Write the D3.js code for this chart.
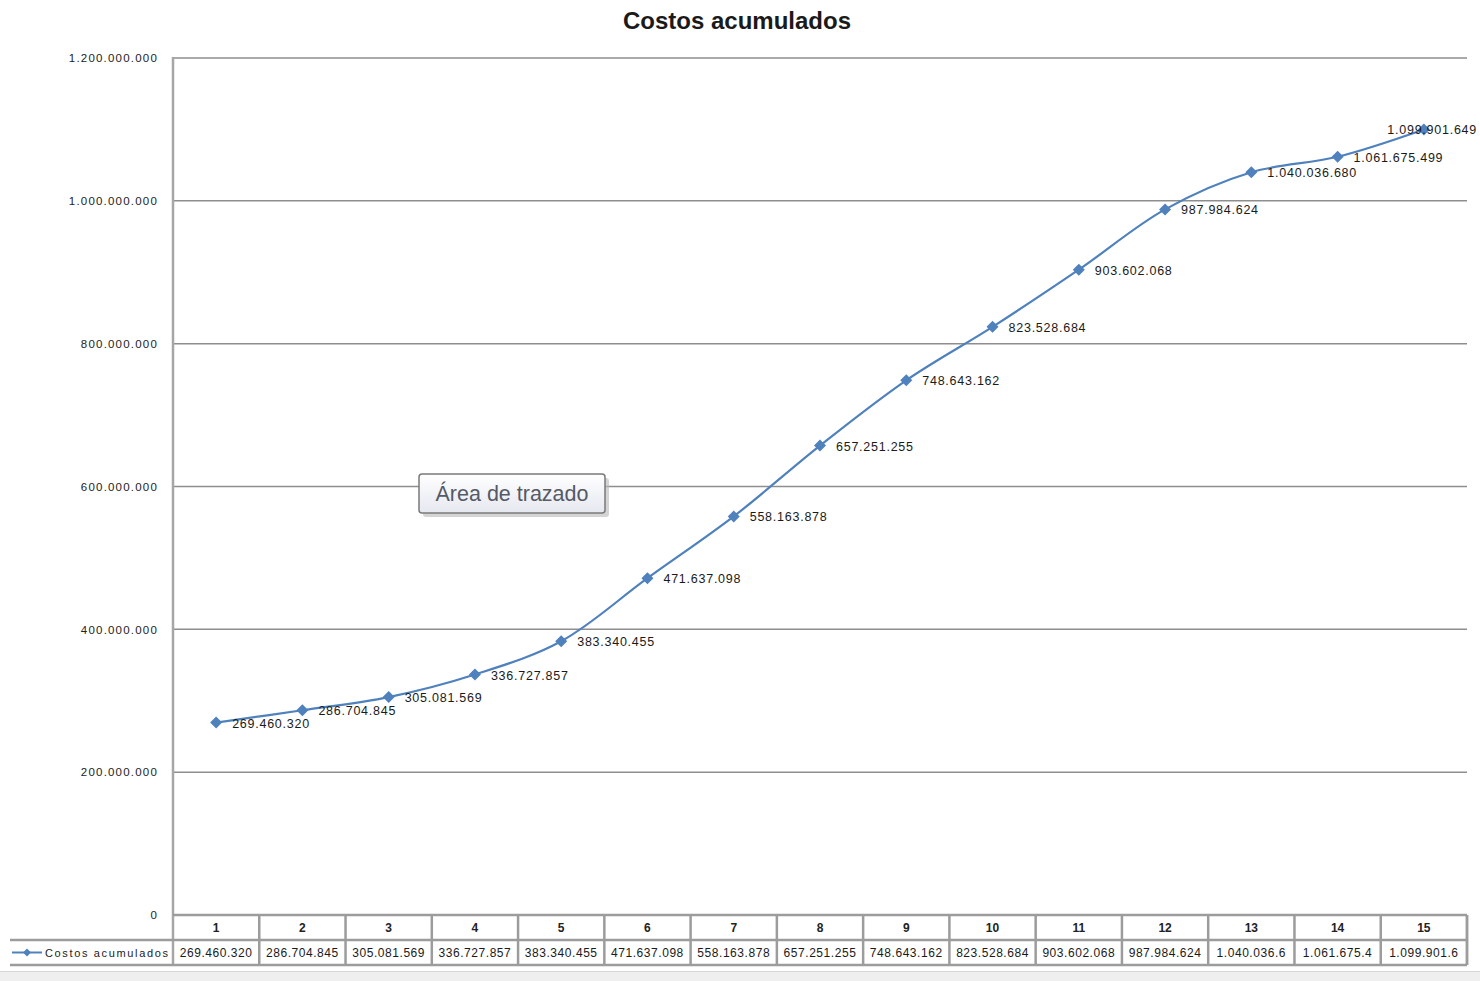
<!DOCTYPE html>
<html>
<head>
<meta charset="utf-8">
<script src="https://cdn.jsdelivr.net/npm/d3@7/dist/d3.min.js"></script>
<style>
  html, body { margin: 0; padding: 0; background: #fff; }
  svg { display: block; }
  text { font-family: "Liberation Sans", Arial, sans-serif; }
</style>
</head>
<body>
<svg id="chart" width="1480" height="981"></svg>
<script>
// Cumulative costs per period
const categories = ["1","2","3","4","5","6","7","8","9","10","11","12","13","14","15"];
const costosAcumulados = [
  269460320, 286704845, 305081569, 336727857, 383340455,
  471637098, 558163878, 657251255, 748643162, 823528684,
  903602068, 987984624, 1040036680, 1061675499, 1099901649
];
const yTicks = [0, 200000000, 400000000, 600000000, 800000000, 1000000000, 1200000000];
const seriesName = "Costos acumulados";
const chartTitle = "Costos acumulados";

const W = 1480, H = 981;
const plot = { left: 173, right: 1467, top: 58, bottom: 915 };
const rowH = 25;
const tableLeft = 10;
const blue = "#4f81bd";
const grid = "#8e8e8e";

const locale = d3.formatLocale({ decimal: ",", thousands: ".", grouping: [3], currency: ["", ""] });
const fmt = locale.format(",d");

const svg = d3.select("#chart");

const x = d3.scaleBand().domain(categories).range([plot.left, plot.right]);
const y = d3.scaleLinear().domain([0, 1200000000]).range([plot.bottom, plot.top]);

// square-ish diamond marker (a square turned 45 degrees)
const diamond = s => {
  const r = s / 2;
  return `M0,${-r}L${r},0L0,${r}L${-r},0Z`;
};

// spreadsheet strip under the chart
svg.append("rect").attr("x", 0).attr("y", 971).attr("width", W).attr("height", 10).attr("fill", "#efefef");
svg.append("line").attr("x1", 0).attr("x2", W).attr("y1", 971.5).attr("y2", 971.5).attr("stroke", "#d6d6d6");

// title
svg.append("text")
  .attr("x", 737).attr("y", 29)
  .attr("text-anchor", "middle")
  .attr("font-size", 24).attr("font-weight", "bold").attr("fill", "#1a1a1a")
  .text(chartTitle);

// horizontal gridlines
svg.append("g").selectAll("line")
  .data(yTicks.filter(d => d > 0))
  .join("line")
  .attr("x1", plot.left).attr("x2", plot.right)
  .attr("y1", d => y(d)).attr("y2", d => y(d))
  .attr("stroke", grid).attr("stroke-width", 1.5);

// y axis
const yAxis = d3.axisLeft(y).tickValues(yTicks).tickFormat(fmt).tickSize(0).tickPadding(15);
const gy = svg.append("g").attr("transform", `translate(${plot.left},0)`).call(yAxis);
gy.select(".domain").remove();
gy.selectAll("text")
  .attr("font-size", 11.5).attr("letter-spacing", 1.2).attr("fill", "#222")
  .attr("font-family", "'Liberation Sans', Arial, sans-serif");
svg.append("line")
  .attr("x1", plot.left).attr("x2", plot.left)
  .attr("y1", plot.top - 1).attr("y2", plot.bottom + 2 * rowH)
  .attr("stroke", "#a6a6a6").attr("stroke-width", 2.5);

// data table under the plot
const table = svg.append("g");
const cellStroke = "#9c9c9c";
// horizontal rules
[[plot.left, plot.bottom], [tableLeft, plot.bottom + rowH], [tableLeft, plot.bottom + 2 * rowH]].forEach(([x0, yy]) => {
  table.append("line").attr("x1", x0).attr("x2", plot.right)
    .attr("y1", yy).attr("y2", yy).attr("stroke", cellStroke).attr("stroke-width", 2.5);
});
// column rules
table.selectAll("line.col")
  .data(categories.map(c => x(c) + x.bandwidth()).concat([plot.right]))
  .join("line").attr("class", "col")
  .attr("x1", d => d).attr("x2", d => d)
  .attr("y1", plot.bottom).attr("y2", plot.bottom + 2 * rowH)
  .attr("stroke", cellStroke).attr("stroke-width", 2.5);
// category row
table.selectAll("text.cat")
  .data(categories).join("text").attr("class", "cat")
  .attr("x", d => x(d) + x.bandwidth() / 2).attr("y", plot.bottom + 17)
  .attr("text-anchor", "middle").attr("font-size", 12).attr("font-weight", "bold").attr("fill", "#222")
  .text(d => d);
// value row (cell text is clipped to the cell width)
table.selectAll("text.val")
  .data(costosAcumulados).join("text").attr("class", "val")
  .attr("x", (d, i) => x(categories[i]) + x.bandwidth() / 2).attr("y", plot.bottom + rowH + 17)
  .attr("text-anchor", "middle").attr("font-size", 12).attr("letter-spacing", 0.55).attr("fill", "#1a1a1a")
  .text(d => fmt(d).slice(0, 11));
// legend key in the table
const ky = plot.bottom + rowH + 12.5;
table.append("line").attr("x1", 12).attr("x2", 42).attr("y1", ky).attr("y2", ky)
  .attr("stroke", blue).attr("stroke-width", 2);
table.append("path").attr("d", diamond(8))
  .attr("transform", `translate(27,${ky})`).attr("fill", blue);
table.append("text").attr("x", 45).attr("y", ky + 4.5)
  .attr("font-size", 11).attr("letter-spacing", 1.65).attr("fill", "#222")
  .text(seriesName);

// smoothed series line
const pts = costosAcumulados.map((v, i) => [x(categories[i]) + x.bandwidth() / 2, y(v)]);
svg.append("path")
  .attr("d", d3.line().curve(d3.curveCatmullRom.alpha(0.5))(pts))
  .attr("fill", "none").attr("stroke", blue).attr("stroke-width", 2.2);

// markers
svg.append("g").selectAll("path")
  .data(pts).join("path")
  .attr("d", diamond(12))
  .attr("transform", d => `translate(${d[0]},${d[1]})`)
  .attr("fill", blue);

// data labels to the right of each marker, pulled inside the frame at the right edge
const labels = svg.append("g").selectAll("text")
  .data(costosAcumulados).join("text")
  .attr("font-size", 12.5).attr("letter-spacing", 0.75).attr("fill", "#1a1a1a")
  .attr("y", (d, i) => pts[i][1] + 5)
  .text(d => fmt(d));
labels.each(function (d, i) {
  const w = this.getComputedTextLength();
  let lx = pts[i][0] + 16;
  if (lx + w > W - 3) lx = W - 3 - w;
  d3.select(this).attr("x", lx);
});

// "Área de trazado" hover tip
const tip = svg.append("g").attr("transform", "translate(419,474)");
const defs = svg.append("defs");
const grad = defs.append("linearGradient").attr("id", "tipfill").attr("x1", 0).attr("x2", 0).attr("y1", 0).attr("y2", 1);
grad.append("stop").attr("offset", "0%").attr("stop-color", "#ffffff");
grad.append("stop").attr("offset", "100%").attr("stop-color", "#e6e8f0");
tip.append("rect").attr("x", 4).attr("y", 4).attr("width", 186).attr("height", 39).attr("rx", 3)
  .attr("fill", "#b8b8b8").attr("opacity", 0.6);
tip.append("rect").attr("x", 0).attr("y", 0).attr("width", 186).attr("height", 39).attr("rx", 3)
  .attr("fill", "url(#tipfill)").attr("stroke", "#7a7a7a").attr("stroke-width", 1.5);
tip.append("text").attr("x", 93).attr("y", 27).attr("text-anchor", "middle")
  .attr("font-size", 21.5).attr("fill", "#555a66")
  .text("Área de trazado");
</script>
</body>
</html>
